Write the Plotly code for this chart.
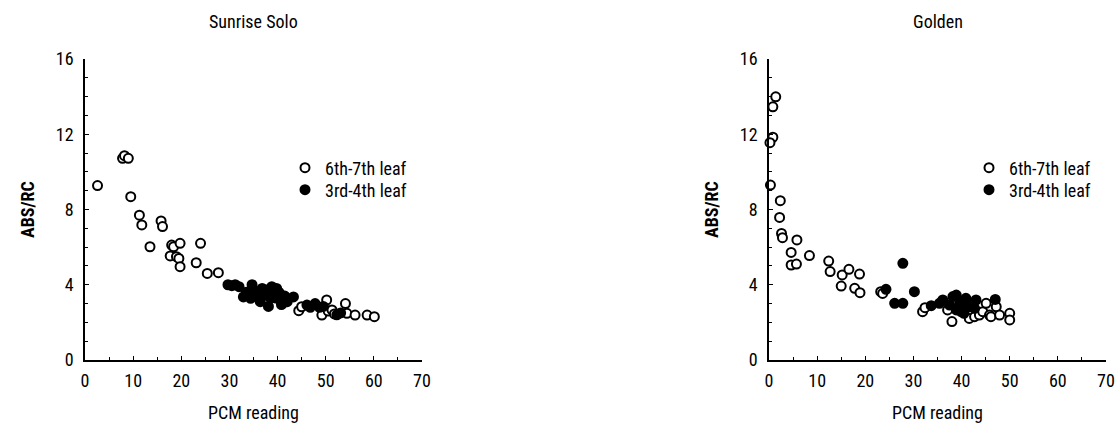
import plotly.graph_objects as go

# ---------------- data ----------------
# Sunrise Solo
ss_open_x = [2.6, 7.8, 8.2, 9.0, 9.5, 11.3, 11.8, 13.5, 15.8, 16.1, 17.7, 18.0, 18.4, 19.0, 19.5,
             19.75, 19.75, 23.1, 24.0, 25.4, 27.7, 40.8, 44.4, 45.0, 49.2, 50.2, 50.5, 51.3, 51.8,
             54.1, 54.4, 56.1, 58.6, 60.1]
ss_open_y = [9.27, 10.72, 10.86, 10.72, 8.68, 7.7, 7.18, 6.02, 7.39, 7.09, 5.53, 6.11, 6.02, 5.49, 5.4,
             4.96, 6.2, 5.17, 6.2, 4.6, 4.64, 2.95, 2.62, 2.83, 2.39, 3.19, 2.6, 2.66, 2.45,
             3.0, 2.48, 2.39, 2.39, 2.3]
ss_fill_x = [29.7, 30.5, 31.2, 32.0, 32.9, 33.5, 34.4, 34.7, 35.0, 35.5, 36.0, 36.4, 36.8, 37.3, 37.8,
             38.1, 38.5, 38.8, 39.2, 39.5, 39.8, 40.3, 40.5, 41.0, 41.5, 42.0, 43.3, 46.1, 46.8,
             47.8, 48.7, 49.5, 52.3, 53.1]
ss_fill_y = [4.0, 3.95, 4.0, 3.9, 3.35, 3.6, 3.28, 4.0, 3.7, 3.4, 3.55, 3.1, 3.8, 3.45, 3.72,
             2.85, 3.3, 3.9, 3.55, 3.3, 3.8, 3.6, 3.2, 3.0, 3.4, 3.1, 3.35, 2.92, 2.8,
             3.0, 2.8, 2.85, 2.4, 2.5]

# Golden
go_open_x = [1.4, 0.8, 0.8, 0.2, 0.3, 2.35, 2.2, 2.6, 2.8, 4.6, 4.6, 5.7, 5.8, 8.4, 12.4, 12.7,
             15.2, 15.0, 16.6, 17.8, 18.8, 18.9, 23.2, 23.6, 31.9, 32.4, 37.1, 38.0, 41.6, 42.7,
             43.7, 44.4, 45.1, 45.8, 46.1, 47.2, 47.9, 50.0, 50.0]
go_open_y = [13.99, 13.46, 11.84, 11.55, 9.3, 8.47, 7.58, 6.73, 6.5, 5.72, 5.05, 5.1, 6.38, 5.55, 5.26, 4.7,
             4.52, 3.93, 4.82, 3.81, 4.57, 3.58, 3.63, 3.54, 2.57, 2.78, 2.66, 2.04, 2.21, 2.30,
             2.39, 2.57, 3.01, 2.39, 2.3, 2.83, 2.39, 2.48, 2.13]
go_fill_x = [24.3, 26.1, 27.8, 27.8, 30.2, 33.7, 35.4, 36.1, 37.5, 38.2, 38.9, 38.9, 39.6, 39.9,
             40.2, 40.5, 40.9, 41.6, 41.6, 42.7, 43.0, 47.0]
go_fill_y = [3.76, 3.01, 3.01, 5.14, 3.63, 2.89, 3.01, 3.19, 2.92, 3.37, 3.45, 2.66, 3.01, 2.57,
             2.75, 2.48, 3.28, 2.83, 3.01, 2.75, 3.19, 3.22]

panel_titles = ["Sunrise Solo", "Golden"]
series_names = ["6th-7th leaf", "3rd-4th leaf"]
x_title = "PCM reading"
y_title = "ABS/RC"

# ---------------- style ----------------
W, H = 1115, 425
FONT = "Roboto Condensed, Archivo Narrow, sans-serif"
FS = 18
MS = 9

def px_x(p):
    return p / W

def px_y(p):
    return (H - p) / H

dom_x = [[px_x(85), px_x(422)], [px_x(769), px_x(1106)]]
dom_y = [px_y(360), px_y(59)]
legend_left = [285, 969]
legend_row_y = [168, 190]

fig = go.Figure()

panels = [
    (ss_open_x, ss_open_y, ss_fill_x, ss_fill_y),
    (go_open_x, go_open_y, go_fill_x, go_fill_y),
]

legend_layout = {}
k = 0
for i, (ox, oy, fx, fy) in enumerate(panels):
    xa = "x" if i == 0 else "x2"
    ya = "y" if i == 0 else "y2"
    for j, (xs, ys, fill) in enumerate([(ox, oy, "white"), (fx, fy, "black")]):
        k += 1
        lg = "legend" if k == 1 else "legend%d" % k
        fig.add_trace(go.Scatter(
            x=xs, y=ys, mode="markers", name=series_names[j], xaxis=xa, yaxis=ya, legend=lg,
            cliponaxis=False,
            marker=dict(symbol="circle", size=MS, color=fill, line=dict(color="black", width=2)),
        ))
        legend_layout[lg] = dict(
            font=dict(family=FONT, size=FS, color="black"),
            bgcolor="rgba(0,0,0,0)", borderwidth=0, itemwidth=30,
            xanchor="left", yanchor="middle",
            x=px_x(legend_left[i]), y=px_y(legend_row_y[j]),
        )

axis_common = dict(
    showline=True, linecolor="black", linewidth=1.5, mirror=False, automargin=False,
    showgrid=False, zeroline=False,
    ticks="inside", ticklen=4, tickwidth=1.2, tickcolor="black",
    tickfont=dict(family=FONT, size=FS, color="black"),
)

xaxis = dict(axis_common, range=[0, 70], tick0=0, dtick=10, ticklabelstandoff=4,
             minor=dict(ticks="inside", dtick=5, tick0=0, ticklen=3, tickwidth=1.2, tickcolor="black"))
yaxis = dict(axis_common, range=[0, 16], tick0=0, dtick=4, ticklabelstandoff=6,
             minor=dict(ticks="inside", dtick=1, tick0=0, ticklen=3, tickwidth=1.2, tickcolor="black"))

annotations = []
for i in range(2):
    cx = (dom_x[i][0] + dom_x[i][1]) / 2
    annotations.append(dict(text=panel_titles[i], x=cx, y=px_y(21), xref="paper", yref="paper",
                            showarrow=False, xanchor="center", yanchor="middle",
                            font=dict(family=FONT, size=FS, color="black")))
    annotations.append(dict(text=x_title, x=cx, y=px_y(412), xref="paper", yref="paper",
                            showarrow=False, xanchor="center", yanchor="middle",
                            font=dict(family=FONT, size=FS, color="black")))
    tx = 27 if i == 0 else 711
    annotations.append(dict(text="<b>" + y_title + "</b>", x=px_x(tx), y=px_y(210),
                            xref="paper", yref="paper", textangle=-90,
                            showarrow=False, xanchor="center", yanchor="middle",
                            font=dict(family=FONT, size=FS, color="black")))

fig.update_layout(
    width=W, height=H,
    margin=dict(l=0, r=0, t=0, b=0, autoexpand=False),
    paper_bgcolor="white", plot_bgcolor="white",
    showlegend=True,
    xaxis=dict(xaxis, domain=dom_x[0], anchor="y"),
    yaxis=dict(yaxis, domain=dom_y, anchor="x"),
    xaxis2=dict(xaxis, domain=dom_x[1], anchor="y2"),
    yaxis2=dict(yaxis, domain=dom_y, anchor="x2"),
    annotations=annotations,
    **legend_layout,
)

fig.write_html("out.html", config={"displayModeBar": False},
               post_script="document.body.style.margin='0';document.body.style.overflow='hidden';")
